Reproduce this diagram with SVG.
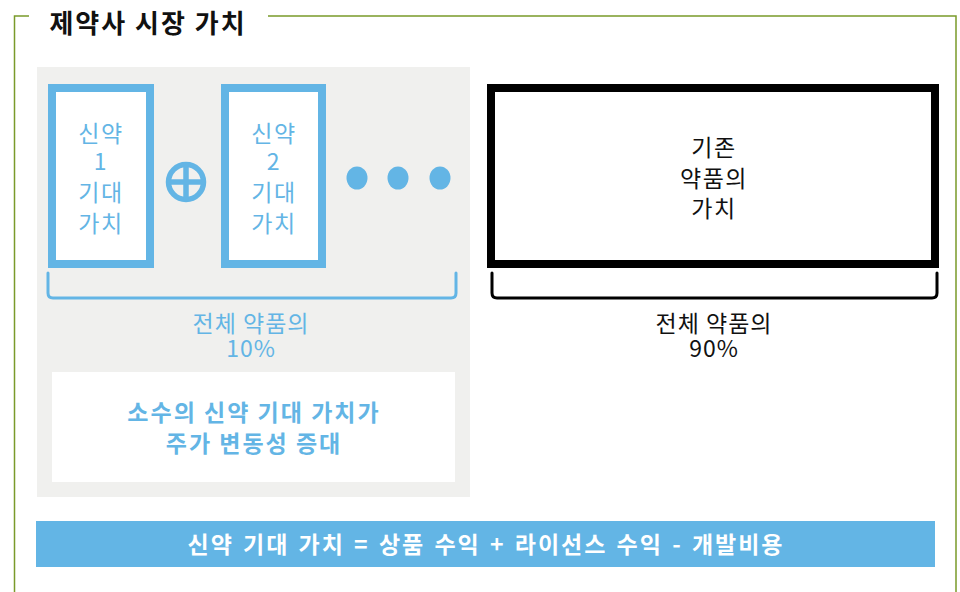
<svg xmlns="http://www.w3.org/2000/svg" width="960" height="592" viewBox="0 0 960 592">
<style>
text{font-family:"Noto Sans CJK KR","Noto Sans",sans-serif;text-anchor:middle}
.blue{fill:#63b5e5}
.lt{font-size:23px;letter-spacing:1px}
.bx{font-size:23px;letter-spacing:1.5px}
.bold{font-weight:bold}
</style>
<rect width="960" height="592" fill="#ffffff"/>
<g id="frame" fill="none" stroke="#7a9a2a" stroke-width="1.5">
<polyline points="29,16 14.5,16 14.5,592"/>
<polyline points="268,16 956,16 956,592"/>
</g>
<text id="title" x="148" y="33" font-size="26" font-weight="bold" letter-spacing="2" fill="#111">제약사 시장 가치</text>
<rect id="panel" x="37" y="67" width="433" height="430" fill="#f0f0ee"/>
<g id="drug1">
<rect x="52" y="88" width="98" height="176" fill="#fff" stroke="#63b5e5" stroke-width="8"/>
<text class="blue bx" x="101"><tspan x="101" y="142">신약</tspan><tspan x="101" y="170">1</tspan><tspan x="101" y="201">기대</tspan><tspan x="101" y="232">가치</tspan></text>
</g>
<g id="plus" fill="none" stroke="#63b5e5" stroke-width="5.5">
<circle cx="186" cy="182" r="17.5"/>
<line x1="186" y1="164" x2="186" y2="200"/>
<line x1="168" y1="182" x2="204" y2="182"/>
</g>
<g id="drug2">
<rect x="225" y="88" width="97" height="176" fill="#fff" stroke="#63b5e5" stroke-width="8"/>
<text class="blue bx" x="274"><tspan x="274" y="142">신약</tspan><tspan x="274" y="170">2</tspan><tspan x="274" y="201">기대</tspan><tspan x="274" y="232">가치</tspan></text>
</g>
<g id="dots" class="blue">
<ellipse cx="357" cy="178" rx="10.5" ry="11.5"/>
<ellipse cx="398" cy="178" rx="10.5" ry="11.5"/>
<ellipse cx="440" cy="178" rx="10.5" ry="11.5"/>
</g>
<g id="existing">
<rect x="491" y="88" width="444" height="176" fill="#fff" stroke="#000" stroke-width="8"/>
<text class="bx" x="714" fill="#111"><tspan x="714" y="156">기존</tspan><tspan x="714" y="187">약품의</tspan><tspan x="714" y="217">가치</tspan></text>
</g>
<g id="connectors" fill="none" stroke-width="3" stroke-linecap="round" stroke-linejoin="round">
<path d="M48,273 L48,293 Q48,298 53,298 L451,298 Q456,298 456,293 L456,273" stroke="#63b5e5"/>
<path d="M492,273 L492,293 Q492,298 497,298 L932,298 Q937,298 937,293 L937,273" stroke="#000"/>
</g>
<g id="label10">
<text class="blue lt" x="251"><tspan x="251" y="332">전체 약품의</tspan><tspan x="251" y="357">10%</tspan></text>
</g>
<g id="label90">
<text class="lt" x="714" fill="#111"><tspan x="714" y="332">전체 약품의</tspan><tspan x="714" y="357">90%</tspan></text>
</g>
<g id="note">
<rect x="52" y="372" width="403" height="110" fill="#fff"/>
<text class="blue bold" font-size="23" letter-spacing="2" x="254"><tspan x="254" y="421">소수의 신약 기대 가치가</tspan><tspan x="254" y="452">주가 변동성 증대</tspan></text>
</g>
<g id="formula">
<rect x="36" y="521" width="899" height="46" fill="#63b5e5"/>
<text class="bold" font-size="23" letter-spacing="2" word-spacing="2" x="486" y="553" fill="#fff">신약 기대 가치 = 상품 수익 + 라이선스 수익 - 개발비용</text>
</g>
</svg>
